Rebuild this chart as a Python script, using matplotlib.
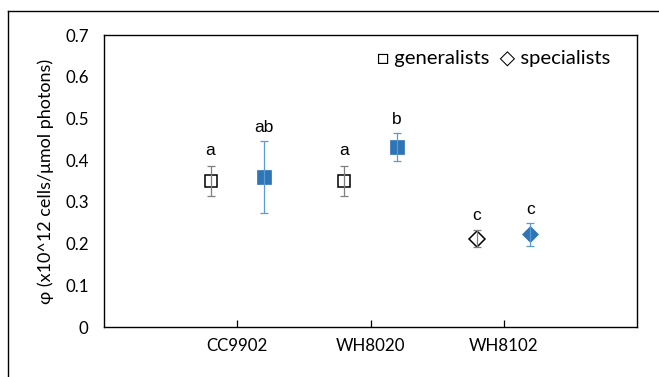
import matplotlib
matplotlib.use("Agg")
import matplotlib.pyplot as plt
from matplotlib.lines import Line2D
import numpy as np

strains = ["CC9902", "WH8020", "WH8102"]
open_vals = [0.350, 0.350, 0.212]
open_err = [0.037, 0.037, 0.020]
blue_vals = [0.360, 0.432, 0.222]
blue_err = [0.087, 0.033, 0.027]
group_markers = ["s", "s", "D"]
letters_open = ["a", "a", "c"]
letters_blue = ["ab", "b", "c"]
yticks = [0, 0.1, 0.2, 0.3, 0.4, 0.5, 0.6, 0.7]
ytick_labels = ["0", "0.1", "0.2", "0.3", "0.4", "0.5", "0.6", "0.7"]

FONT = ["Lato", "DejaVu Sans"]
plt.rcParams["font.family"] = FONT

fig = plt.figure(figsize=(6.59, 3.77), dpi=100)
ax = fig.add_axes([104 / 659, 50 / 377, 533 / 659, 292 / 377])

blue = "#2E75B6"
blue_err_c = "#5B9BD5"
gray = "#7F7F7F"

x = np.arange(1, len(strains) + 1)
off = 0.2
LFONT = ["Liberation Sans", "DejaVu Sans"]
for i, xi in enumerate(x):
    m = group_markers[i]
    ms_o = 9.2 if m == "s" else 8.0
    ms_b = 10 if m == "s" else 8.3
    ax.errorbar(xi - off, open_vals[i], yerr=open_err[i], fmt="none",
                ecolor=gray, elinewidth=0.9, capsize=2.6, capthick=0.9, zorder=4)
    ax.plot(xi - off, open_vals[i], marker=m, ms=ms_o, mfc="none", mec="black",
            mew=1.1, ls="none", zorder=3)
    ax.errorbar(xi + off, blue_vals[i], yerr=blue_err[i], fmt="none",
                ecolor=blue_err_c, elinewidth=0.9, capsize=2.6, capthick=0.9, zorder=4)
    ax.plot(xi + off, blue_vals[i], marker=m, ms=ms_b, mfc=blue, mec=blue,
            mew=0.5, ls="none", zorder=3)
    ax.annotate(letters_open[i], (xi - off, open_vals[i] + open_err[i]),
                xytext=(0, 7.5), textcoords="offset points", ha="center",
                va="baseline", fontsize=12.5, family=LFONT)
    ax.annotate(letters_blue[i], (xi + off, blue_vals[i] + blue_err[i]),
                xytext=(0, 6.5), textcoords="offset points", ha="center",
                va="baseline", fontsize=12.5, family=LFONT)

ax.set_xlim(0, 4)
ax.set_ylim(0, 0.7)
ax.set_xticks(x)
ax.set_xticklabels(strains)
ax.set_yticks(yticks)
ax.set_yticklabels(ytick_labels)
ax.tick_params(axis="y", length=0, pad=11, labelsize=12.2)
ax.tick_params(axis="x", direction="in", length=5, width=0.9, pad=8, labelsize=12.2)
for s in ax.spines.values():
    s.set_linewidth(1.0)
    s.set_color("black")

ax.set_ylabel("\u03c6 (x10^12 cells/\u03bcmol photons)", fontsize=13.0, labelpad=8)

ax.text(0.512, 0.918, "\u25a1 generalists  \u25c7 specialists", transform=ax.transAxes,
        fontsize=14.6, va="center", ha="left", family=["Lato", "DejaVu Sans"])

fig.add_artist(Line2D([8 / 659, 8 / 659], [0, 1 - 11 / 377], color="black", lw=1.0))
fig.add_artist(Line2D([8 / 659, 658 / 659], [1 - 11 / 377, 1 - 11 / 377], color="black", lw=1.0))

fig.savefig("out.png", dpi=100)
